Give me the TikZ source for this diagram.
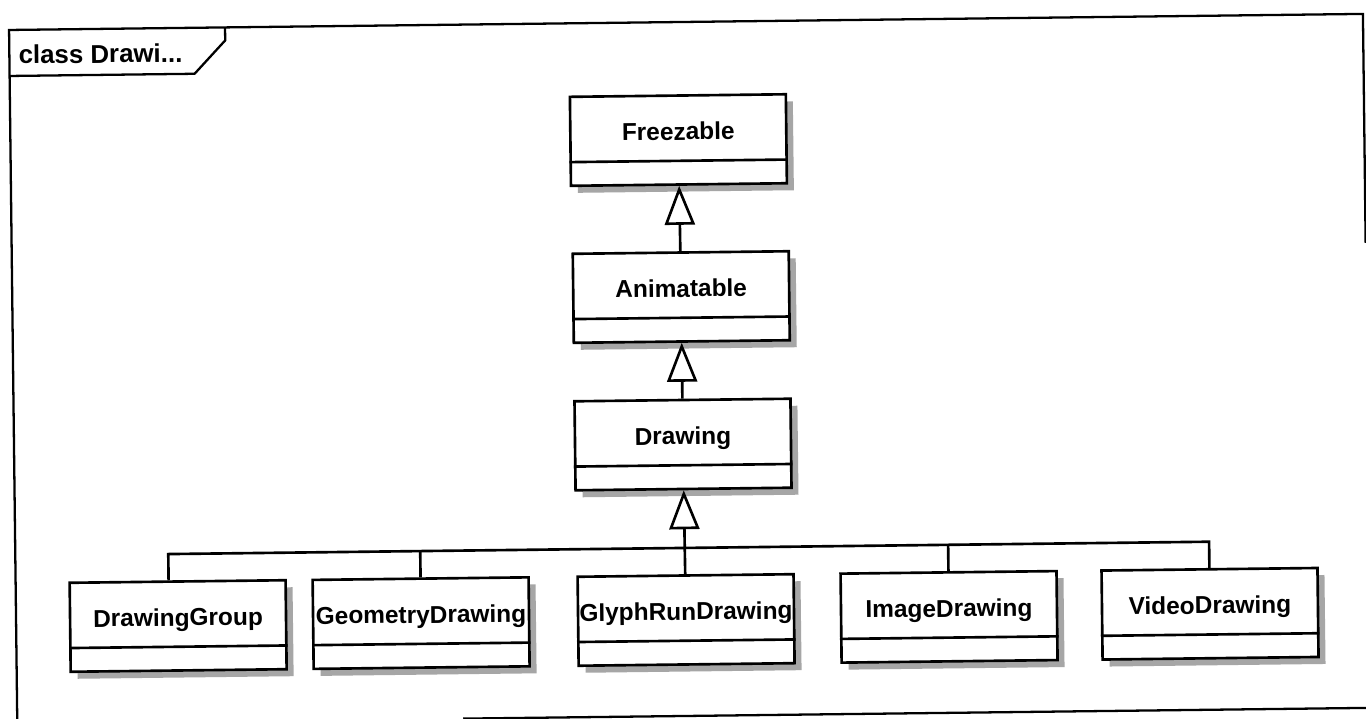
\documentclass[tikz,border=0pt]{standalone}
\usepackage{fontspec}
\setmainfont{Liberation Sans}
\usetikzlibrary{arrows.meta,shadows}
\begin{document}
\begin{tikzpicture}[x=0.02cm,y=-0.02cm,
  cls/.style={draw, line width=1.5pt, fill=white,
    minimum width=4.32cm, minimum height=1.78cm, inner sep=0pt,
    text height=0.3em, text depth=0.3em,
    font=\fontsize{13.9}{16}\selectfont\bfseries,
    drop shadow={shadow xshift=0.14cm, shadow yshift=-0.14cm, fill=black!35, opacity=1}},
  divider/.style={line width=1.5pt},
  inh/.style={line width=1.5pt, -{Triangle[open, length=0.78cm, width=0.6cm]}},
  conn/.style={line width=1.5pt},
  frameline/.style={line width=1.3pt},
]
\fill[white] (0,0) rectangle (1366,719);
\useasboundingbox (0,0) rectangle (1366,719);
\clip (0,0) rectangle (1366,719);
\begin{scope}[rotate around={0.68:(683,360)}, transform shape]
  % diagram frame and its name tab
  \draw[frameline] (13,716) -- (13,22) -- (1367,22) -- (1367,251);
  \draw[frameline] (459,716) -- (1372,716);
  \draw[frameline] (13,68) -- (198,68) -- (229,35) -- (229,22);
  \node[anchor=base west, inner sep=0pt, font=\fontsize{14.7}{16}\selectfont\bfseries] (title) at (22,56) {class Drawi...};

  % classes
  \node[cls] (fr)  at (681,140)   {Freezable};
  \node[cls] (an)  at (682,297)   {Animatable};
  \node[cls] (dr)  at (682,444.5) {Drawing};
  \node[cls] (dg)  at (175,620)   {DrawingGroup};
  \node[cls] (gd)  at (418,620)   {GeometryDrawing};
  \node[cls] (grd) at (683,620)   {GlyphRunDrawing};
  \node[cls] (id)  at (946,620)   {ImageDrawing};
  \node[cls] (vd)  at (1207,620)  {VideoDrawing};

  % compartment dividers
  \foreach \n in {fr,an,dr,dg,gd,grd,id,vd}
    \draw[divider] ([yshift=0.5cm]\n.south west) -- ([yshift=0.5cm]\n.south east);

  % generalizations
  \draw[inh] (an) -- (fr);
  \draw[inh] (dr) -- (an);
  \draw[inh] (grd) -- (dr);

  % shared bus for the Drawing subclasses
  \coordinate (bus) at (683,548);
  \draw[conn] ([xshift=-0.18cm]dg.north) -- ([xshift=-0.18cm]dg.north |- bus) -- (vd.north |- bus) -- (vd.north);
  \draw[conn] (gd.north) -- (gd.north |- bus);
  \draw[conn] (id.north) -- (id.north |- bus);
\end{scope}
\end{tikzpicture}
\end{document}
